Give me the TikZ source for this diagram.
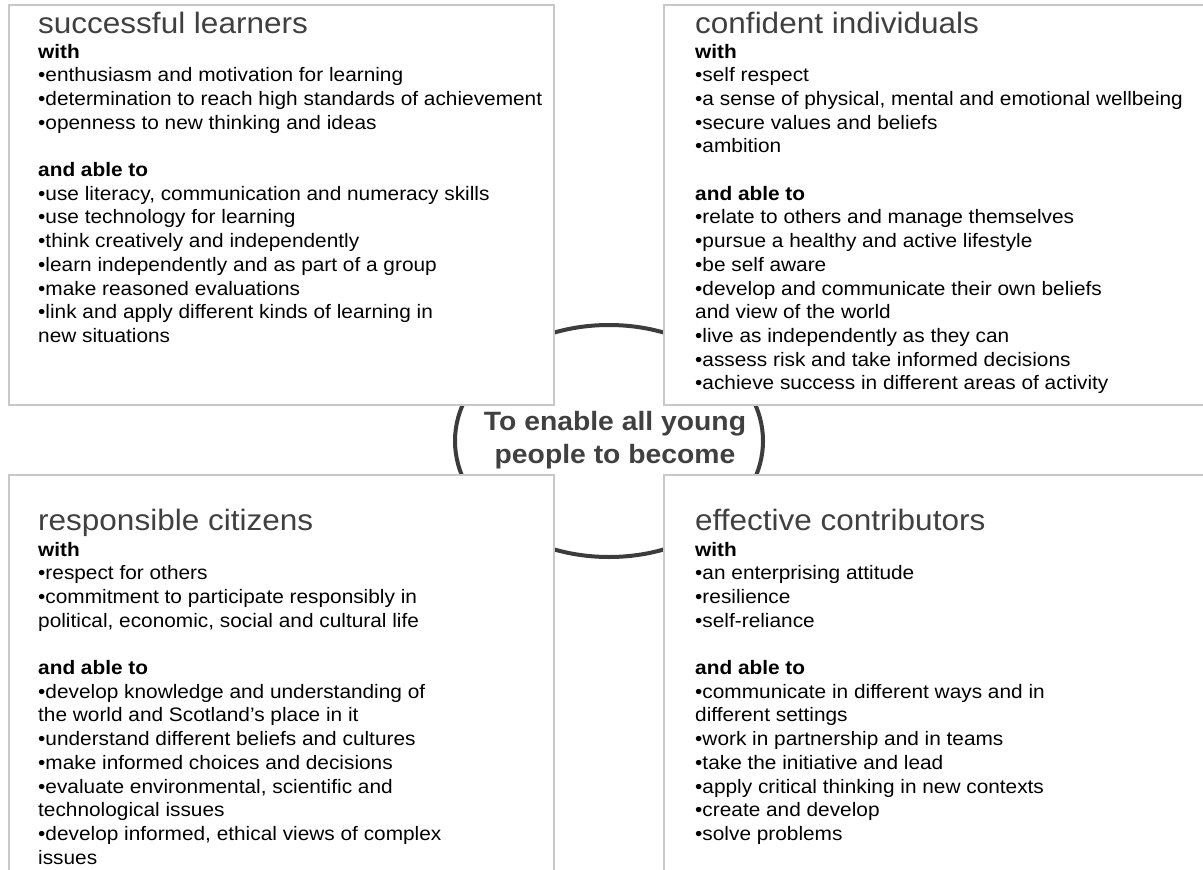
\documentclass[tikz,border=0pt]{standalone}
\usepackage{fontspec}
\setmainfont{Liberation Sans}[FakeStretch=1.068]
\definecolor{boxline}{HTML}{C8C8C8}
\definecolor{ringcol}{HTML}{3C3C3C}
\definecolor{titlecol}{HTML}{404040}
\newcommand\boxlines[4]{%
  \foreach \t [count=\i from 0] in {#4} {
    \node[body, name=#3-\i] at (#1, #2+23.7*\i) {\t};
  }%
}
\begin{document}
\begin{tikzpicture}[x=1pt,y=-1pt,
  box/.style={draw=boxline, line width=1.5pt, fill=white},
  ring/.style={draw=ringcol, line width=4pt},
  titletext/.style={anchor=base west, inner sep=0pt, text=titlecol, font=\fontsize{29.5}{34}\selectfont},
  body/.style={anchor=base west, inner sep=0pt, text=black, font=\fontsize{19.5}{23}\selectfont},
  centertext/.style={anchor=base, inner sep=0pt, text=titlecol, font=\fontsize{26.5}{33}\selectfont\bfseries}]
\useasboundingbox (0,0) rectangle (1203,870);
\fill[white] (0,0) rectangle (1203,870);
% ring behind the boxes
\draw[ring] (609,441) ellipse [x radius=154pt, y radius=116pt];
% boxes
\draw[box] (9,5) rectangle (554,405);
\draw[box] (664,5) rectangle (1215,405);
\draw[box] (9,475) rectangle (554,885);
\draw[box] (664,475) rectangle (1215,885);
% centre text
\node[centertext] (c1) at (615,430) {To enable all young};
\node[centertext] (c2) at (615,463) {people to become};
% titles
\node[titletext] (tlt) at (38,34) {successful learners};
\node[titletext] (trt) at (695,34) {confident individuals};
\node[titletext] (blt) at (38,530) {responsible citizens};
\node[titletext] (brt) at (695,530) {effective contributors};
% bodies
\boxlines{38}{58}{tl}{{\textbf{with}},
 {•enthusiasm and motivation for learning},
 {•determination to reach high standards of achievement},
 {•openness to new thinking and ideas},
 {},
 {\textbf{and able to}},
 {•use literacy, communication and numeracy skills},
 {•use technology for learning},
 {•think creatively and independently},
 {•learn independently and as part of a group},
 {•make reasoned evaluations},
 {•link and apply different kinds of learning in},
 {new situations}}
\boxlines{695}{58}{tr}{{\textbf{with}},
 {•self respect},
 {•a sense of physical, mental and emotional wellbeing},
 {•secure values and beliefs},
 {•ambition},
 {},
 {\textbf{and able to}},
 {•relate to others and manage themselves},
 {•pursue a healthy and active lifestyle},
 {•be self aware},
 {•develop and communicate their own beliefs},
 {and view of the world},
 {•live as independently as they can},
 {•assess risk and take informed decisions},
 {•achieve success in different areas of activity}}
\boxlines{38}{556}{bl}{{\textbf{with}},
 {•respect for others},
 {•commitment to participate responsibly in},
 {political, economic, social and cultural life},
 {},
 {\textbf{and able to}},
 {•develop knowledge and understanding of},
 {the world and Scotland’s place in it},
 {•understand different beliefs and cultures},
 {•make informed choices and decisions},
 {•evaluate environmental, scientific and},
 {technological issues},
 {•develop informed, ethical views of complex},
 {issues}}
\boxlines{695}{556}{br}{{\textbf{with}},
 {•an enterprising attitude},
 {•resilience},
 {•self-reliance},
 {},
 {\textbf{and able to}},
 {•communicate in different ways and in},
 {different settings},
 {•work in partnership and in teams},
 {•take the initiative and lead},
 {•apply critical thinking in new contexts},
 {•create and develop},
 {•solve problems}}
\end{tikzpicture}
\end{document}
